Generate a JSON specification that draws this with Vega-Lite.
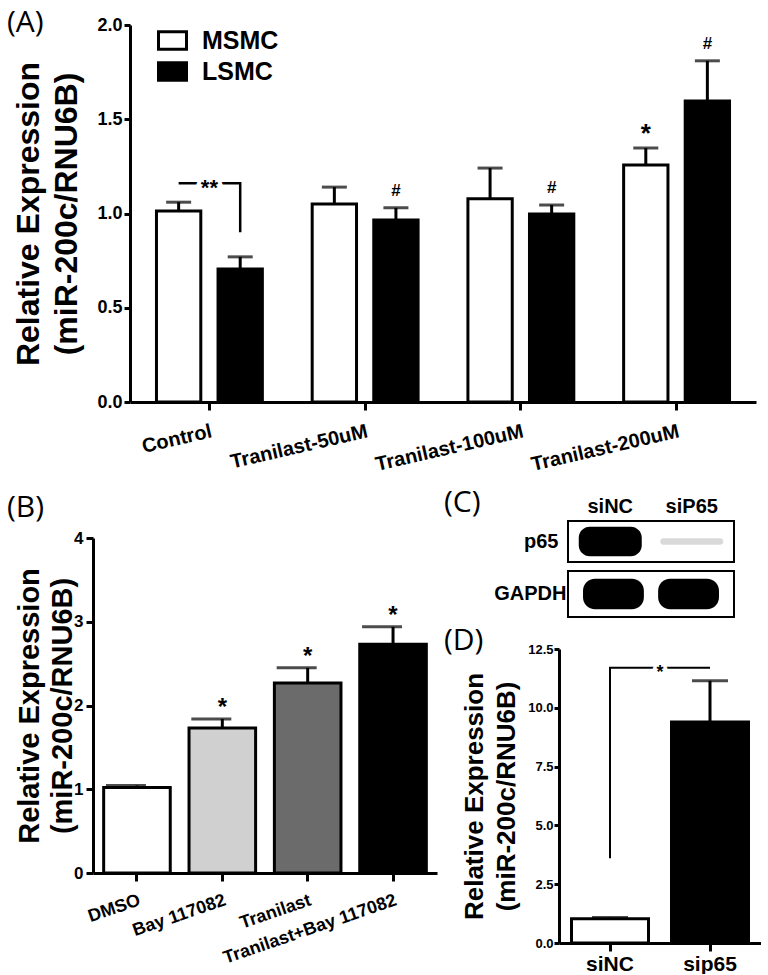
{
  "$schema": "https://vega.github.io/schema/vega-lite/v6.json",
  "background": "white",
  "padding": {"left": 7, "top": 8, "right": 0, "bottom": 0},
  "config": {
    "view": {"stroke": null},
    "font": "Liberation Sans",
    "axis": {"labelFont": "Liberation Sans", "titleFont": "Liberation Sans", "labelFontWeight": "bold", "titleFontWeight": "bold", "labelColor": "black", "titleColor": "black", "domainColor": "black", "tickColor": "black", "domainWidth": 3, "tickWidth": 3, "grid": false, "labelOverlap": false, "labelLimit": 400},
    "text": {"font": "Liberation Sans", "fontWeight": "bold", "color": "black"},
    "legend": {"labelFont": "Liberation Sans"},
    "title": {"font": "Open Sans", "fontWeight": "normal", "fontSize": 30, "color": "black", "anchor": "start", "frame": "group"}
  },
  "spacing": 12,
  "resolve": {"scale": {"fill": "independent", "opacity": "independent"}, "legend": {"fill": "independent"}},
  "vconcat": [
    {
      "bounds": "flush",
      "spacing": 7,
      "resolve": {"scale": {"fill": "independent"}, "legend": {"fill": "independent"}},
      "hconcat": [
        {"width": 30, "height": 1, "data": {"values": []}, "mark": "point", "encoding": {}},
        {
          "width": 626, "height": 377,
          "title": {"text": "(A)", "dx": -123, "offset": -22},
          "data": {"values": [
            {"treatment": "Control", "cell": "MSMC", "mean": 1.013, "upper": 1.06, "sig": ""},
            {"treatment": "Control", "cell": "LSMC", "mean": 0.705, "upper": 0.77, "sig": ""},
            {"treatment": "Tranilast-50uM", "cell": "MSMC", "mean": 1.05, "upper": 1.14, "sig": ""},
            {"treatment": "Tranilast-50uM", "cell": "LSMC", "mean": 0.965, "upper": 1.03, "sig": "#"},
            {"treatment": "Tranilast-100uM", "cell": "MSMC", "mean": 1.078, "upper": 1.241, "sig": ""},
            {"treatment": "Tranilast-100uM", "cell": "LSMC", "mean": 0.997, "upper": 1.045, "sig": "#"},
            {"treatment": "Tranilast-200uM", "cell": "MSMC", "mean": 1.257, "upper": 1.347, "sig": "*"},
            {"treatment": "Tranilast-200uM", "cell": "LSMC", "mean": 1.597, "upper": 1.81, "sig": "#"}
          ]},
          "encoding": {
            "x": {"field": "treatment", "type": "nominal", "sort": ["Control", "Tranilast-50uM", "Tranilast-100uM", "Tranilast-200uM"],
                  "scale": {"paddingInner": 0.32, "paddingOuter": 0.17},
                  "axis": {"title": null, "labelAngle": -13, "labelAlign": "right", "labelBaseline": "top", "labelFontSize": 20, "labelPadding": 11, "tickSize": 8}}
          },
          "layer": [
            {
              "mark": {"type": "bar", "stroke": "black", "strokeWidth": 3},
              "encoding": {
                "xOffset": {"field": "cell", "type": "nominal", "sort": ["MSMC", "LSMC"], "scale": {"paddingInner": 0.28, "paddingOuter": 0}},
                "y": {"field": "mean", "type": "quantitative", "scale": {"domain": [0, 2], "nice": false},
                      "axis": {"title": ["Relative Expression", "(miR-200c/RNU6B)"], "titleFontSize": 32, "titleLineHeight": 38, "titlePadding": 13, "values": [0, 0.5, 1, 1.5, 2], "format": ".1f", "labelFontSize": 18, "tickSize": 6, "labelPadding": 2}},
                "fill": {"field": "cell", "type": "nominal", "scale": {"domain": ["MSMC", "LSMC"], "range": ["white", "black"]},
                         "legend": {"orient": "none", "legendX": 27, "legendY": 0, "title": null, "symbolType": "M-1,-0.62H1V0.62H-1Z", "symbolSize": 784, "symbolStrokeColor": "black", "symbolStrokeWidth": 3, "labelFontSize": 25, "labelFontWeight": "bold", "labelColor": "black", "labelOffset": 14, "rowPadding": 0, "padding": 0}}
              }
            },
            {
              "mark": {"type": "rule", "strokeWidth": 3, "color": "black"},
              "encoding": {
                "xOffset": {"field": "cell", "type": "nominal", "sort": ["MSMC", "LSMC"]},
                "y": {"field": "mean", "type": "quantitative"},
                "y2": {"field": "upper"}
              }
            },
            {
              "mark": {"type": "tick", "thickness": 3, "size": 25, "color": "black", "orient": "horizontal"},
              "encoding": {
                "xOffset": {"field": "cell", "type": "nominal", "sort": ["MSMC", "LSMC"]},
                "y": {"field": "upper", "type": "quantitative"}
              }
            },
            {
              "transform": [{"filter": "datum.sig === '#'"}],
              "mark": {"type": "text", "fontSize": 17, "fontWeight": "bold", "baseline": "alphabetic", "dy": -12},
              "encoding": {
                "xOffset": {"field": "cell", "type": "nominal", "sort": ["MSMC", "LSMC"]},
                "y": {"field": "upper", "type": "quantitative"},
                "text": {"field": "sig"}
              }
            },
            {
              "transform": [{"filter": "datum.sig === '*'"}],
              "mark": {"type": "text", "fontSize": 26, "fontWeight": "bold", "baseline": "alphabetic", "dy": -6},
              "encoding": {
                "xOffset": {"field": "cell", "type": "nominal", "sort": ["MSMC", "LSMC"]},
                "y": {"field": "upper", "type": "quantitative"},
                "text": {"field": "sig"}
              }
            },
            {
              "data": {"values": [
                {"treatment": "Control", "cell": "MSMC", "level": 1.16, "step": 1},
                {"treatment": "Control", "cell": "LSMC", "level": 1.16, "step": 2},
                {"treatment": "Control", "cell": "LSMC", "level": 0.9, "step": 3}
              ]},
              "mark": {"type": "line", "strokeWidth": 2.5, "color": "black"},
              "encoding": {
                "xOffset": {"field": "cell", "type": "nominal", "sort": ["MSMC", "LSMC"]},
                "y": {"field": "level", "type": "quantitative"},
                "order": {"field": "step", "type": "quantitative"}
              }
            },
            {
              "data": {"values": [{"treatment": "Control", "level": 1.16, "label": "**"}]},
              "mark": {"type": "text", "fontSize": 22, "fontWeight": "bold", "baseline": "alphabetic", "dy": 12, "fill": "white", "stroke": "white", "strokeWidth": 8},
              "encoding": {"y": {"field": "level", "type": "quantitative"}, "text": {"field": "label"}}
            },
            {
              "data": {"values": [{"treatment": "Control", "level": 1.16, "label": "**"}]},
              "mark": {"type": "text", "fontSize": 22, "fontWeight": "bold", "baseline": "alphabetic", "dy": 12},
              "encoding": {"y": {"field": "level", "type": "quantitative"}, "text": {"field": "label"}}
            }
          ]
        }
      ]
    },
    {
      "spacing": 6,
      "resolve": {"scale": {"fill": "independent", "opacity": "independent"}, "legend": {"fill": "independent"}},
      "hconcat": [
        {
          "bounds": "flush",
          "spacing": 7,
          "vconcat": [
            {"width": 1, "height": 10, "data": {"values": []}, "mark": "point", "encoding": {}},
            {
              "width": 344, "height": 335,
              "title": {"text": "(B)", "dx": -86, "offset": 6},
              "data": {"values": [
                {"treatment": "DMSO", "mean": 1.02, "upper": 1.045, "sig": ""},
                {"treatment": "Bay 117082", "mean": 1.73, "upper": 1.84, "sig": "*"},
                {"treatment": "Tranilast", "mean": 2.27, "upper": 2.45, "sig": "*"},
                {"treatment": "Tranilast+Bay 117082", "mean": 2.73, "upper": 2.94, "sig": "*"}
              ]},
              "encoding": {
                "x": {"field": "treatment", "type": "nominal", "sort": ["DMSO", "Bay 117082", "Tranilast", "Tranilast+Bay 117082"],
                      "scale": {"paddingInner": 0.22, "paddingOuter": 0.125},
                      "axis": {"title": null, "labelAngle": -19, "labelAlign": "right", "labelBaseline": "top", "labelFontSize": 18, "labelPadding": 10, "tickSize": 8}}
              },
              "layer": [
                {
                  "mark": {"type": "bar", "stroke": "black", "strokeWidth": 3},
                  "encoding": {
                    "y": {"field": "mean", "type": "quantitative", "scale": {"domain": [0, 4], "nice": false},
                          "axis": {"title": ["Relative Expression", "(miR-200c/RNU6B)"], "titleFontSize": 29, "titleLineHeight": 33, "titlePadding": -4, "values": [0, 1, 2, 3, 4], "format": "d", "labelFontSize": 17, "tickSize": 7, "labelPadding": 3}},
                    "fill": {"field": "treatment", "type": "nominal", "scale": {"domain": ["DMSO", "Bay 117082", "Tranilast", "Tranilast+Bay 117082"], "range": ["#ffffff", "#d0d0d0", "#6b6b6b", "#000000"]}, "legend": null}
                  }
                },
                {
                  "mark": {"type": "rule", "strokeWidth": 3, "color": "black"},
                  "encoding": {"y": {"field": "mean", "type": "quantitative"}, "y2": {"field": "upper"}}
                },
                {
                  "mark": {"type": "tick", "thickness": 3, "size": 40, "color": "black", "orient": "horizontal", "xOffset": -11},
                  "encoding": {"y": {"field": "upper", "type": "quantitative"}}
                },
                {
                  "transform": [{"filter": "datum.sig === '*'"}],
                  "mark": {"type": "text", "fontSize": 24, "fontWeight": "bold", "baseline": "alphabetic", "dy": -4},
                  "encoding": {"y": {"field": "upper", "type": "quantitative"}, "text": {"field": "sig"}}
                }
              ]
            }
          ]
        },
        {
          "spacing": 8,
          "resolve": {"scale": {"fill": "independent", "opacity": "independent"}, "legend": {"fill": "independent"}},
          "vconcat": [
            {
              "bounds": "flush",
              "spacing": 4,
              "resolve": {"scale": {"opacity": "independent"}},
              "hconcat": [
                {"width": 5, "height": 1, "data": {"values": []}, "mark": "point", "encoding": {}},
                {
                  "spacing": 7,
                  "resolve": {"scale": {"opacity": "independent"}},
                  "vconcat": [
                    {
                      "width": 166, "height": 41,
                      "title": {"text": "(C)", "dx": -124, "offset": -22},
                      "view": {"stroke": "black", "strokeWidth": 2},
                      "data": {"values": [
                        {"protein": "p65", "lane": "siNC", "intensity": 1.0},
                        {"protein": "p65", "lane": "siP65", "intensity": 0.15}
                      ]},
                      "encoding": {
                        "x": {"field": "lane", "type": "nominal", "sort": ["siNC", "siP65"], "scale": {"paddingInner": 0.227, "paddingOuter": 0.132},
                              "axis": {"orient": "top", "title": null, "domain": false, "ticks": false, "labelFontSize": 20, "labelPadding": 5, "labelAngle": 0}},
                        "y": {"field": "protein", "type": "nominal", "scale": {"paddingOuter": 0.2, "paddingInner": 0},
                              "axis": {"title": null, "domain": false, "ticks": false, "labelFontSize": 20, "labelPadding": 10}}
                      },
                      "layer": [
                        {
                          "transform": [{"filter": "datum.intensity > 0.5"}],
                          "mark": {"type": "rect", "color": "black", "cornerRadius": 11}
                        },
                        {
                          "transform": [{"filter": "datum.intensity <= 0.5"}],
                          "mark": {"type": "rect", "color": "black", "cornerRadius": 3, "height": {"band": 0.22}},
                          "encoding": {"opacity": {"field": "intensity", "type": "quantitative", "scale": {"domain": [0, 1], "range": [0, 1]}, "legend": null}}
                        }
                      ]
                    },
                    {
                      "width": 166, "height": 46,
                      "view": {"stroke": "black", "strokeWidth": 2},
                      "data": {"values": [
                        {"protein": "GAPDH", "lane": "siNC", "intensity": 1.0},
                        {"protein": "GAPDH", "lane": "siP65", "intensity": 1.0}
                      ]},
                      "mark": {"type": "rect", "color": "black", "cornerRadius": 12},
                      "encoding": {
                        "x": {"field": "lane", "type": "nominal", "sort": ["siNC", "siP65"], "scale": {"paddingInner": 0.19, "paddingOuter": 0.2}, "axis": null},
                        "y": {"field": "protein", "type": "nominal", "scale": {"paddingOuter": 0.26, "paddingInner": 0},
                              "axis": {"title": null, "domain": false, "ticks": false, "labelFontSize": 20, "labelPadding": 2}}
                      }
                    }
                  ]
                }
              ]
            },
            {
              "width": 202, "height": 294,
              "title": {"text": "(D)", "dx": -115, "offset": -13},
              "data": {"values": [
                {"lane": "siNC", "mean": 1.03, "upper": 1.08},
                {"lane": "sip65", "mean": 9.4, "upper": 11.15}
              ]},
              "encoding": {
                "x": {"field": "lane", "type": "nominal", "sort": ["siNC", "sip65"], "scale": {"paddingInner": 0.23, "paddingOuter": 0.125},
                      "axis": {"title": null, "labelAngle": 0, "labelFontSize": 21, "labelPadding": 2, "tickSize": 8}}
              },
              "layer": [
                {
                  "mark": {"type": "bar", "stroke": "black", "strokeWidth": 3},
                  "encoding": {
                    "y": {"field": "mean", "type": "quantitative", "scale": {"domain": [0, 12.5], "nice": false},
                          "axis": {"title": ["Relative Expression", "(miR-200c/RNU6B)"], "titleFontSize": 26, "titleLineHeight": 32, "titlePadding": 8, "values": [0, 2.5, 5, 7.5, 10, 12.5], "format": ".1f", "labelFontSize": 13, "tickSize": 5, "labelPadding": 1}},
                    "fill": {"field": "lane", "type": "nominal", "scale": {"domain": ["siNC", "sip65"], "range": ["white", "black"]}, "legend": null}
                  }
                },
                {
                  "mark": {"type": "rule", "strokeWidth": 3, "color": "black"},
                  "encoding": {"y": {"field": "mean", "type": "quantitative"}, "y2": {"field": "upper"}}
                },
                {
                  "mark": {"type": "tick", "thickness": 3, "size": 36, "color": "black", "orient": "horizontal"},
                  "encoding": {"y": {"field": "upper", "type": "quantitative"}}
                },
                {
                  "data": {"values": [
                    {"lane": "siNC", "level": 3.6, "step": 1},
                    {"lane": "siNC", "level": 11.7, "step": 2},
                    {"lane": "sip65", "level": 11.7, "step": 3}
                  ]},
                  "mark": {"type": "line", "strokeWidth": 2, "color": "black"},
                  "encoding": {"y": {"field": "level", "type": "quantitative"}, "order": {"field": "step", "type": "quantitative"}}
                },
                {
                  "data": {"values": [{"lane": "siNC", "level": 11.7, "label": "*"}]},
                  "mark": {"type": "text", "fontSize": 18, "fontWeight": "bold", "baseline": "alphabetic", "dy": 10, "dx": 50, "fill": "white", "stroke": "white", "strokeWidth": 7},
                  "encoding": {"y": {"field": "level", "type": "quantitative"}, "text": {"field": "label"}}
                },
                {
                  "data": {"values": [{"lane": "siNC", "level": 11.7, "label": "*"}]},
                  "mark": {"type": "text", "fontSize": 18, "fontWeight": "bold", "baseline": "alphabetic", "dy": 10, "dx": 50},
                  "encoding": {"y": {"field": "level", "type": "quantitative"}, "text": {"field": "label"}}
                }
              ]
            }
          ]
        }
      ]
    }
  ]
}
